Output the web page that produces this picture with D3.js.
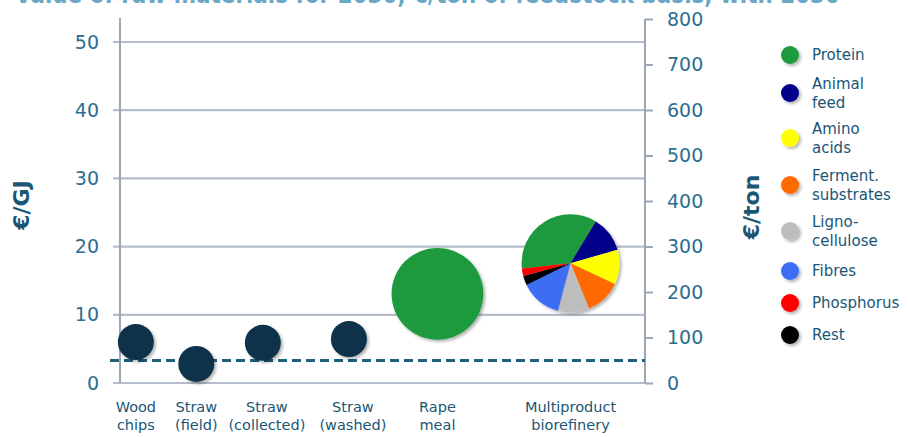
<!DOCTYPE html>
<html>
<head>
<meta charset="utf-8">
<script src="https://cdn.jsdelivr.net/npm/d3@7/dist/d3.min.js"></script>
<style>
  body { margin: 0; background: #fff; }
  svg { display: block; }
</style>
</head>
<body>
<svg id="chart" width="908" height="437"></svg>
<script>
// categories along the x axis (two text lines each)
var categories = [["Wood", "chips"], ["Straw", "(field)"], ["Straw", "(collected)"],
                  ["Straw", "(washed)"], ["Rape", "meal"], ["Multiproduct", "biorefinery"]];
// horizontal slot of each category (the original spaces them unevenly)
var slots = [0.26, 1.25, 2.34, 3.75, 5.2, 7.38];
// feedstock costs in €/GJ (left axis)
var costGJ = [6.0, 2.8, 5.9, 6.45, null, null];
// product values in €/ton (right axis)
var valueTon = [null, null, null, null, 196, 263];
// bubble size (relative)
var bubbleSize = [1, 1, 1, 1, 6.5, 7.4];
var refLine = 3.3; // dashed reference level, €/GJ

var leftTicks = [0, 10, 20, 30, 40, 50];
var rightTicks = [0, 100, 200, 300, 400, 500, 600, 700, 800];

// biorefinery product mix (legend order)
var products = ["Protein", "Animal feed", "Amino acids", "Ferment. substrates",
                "Ligno-cellulose", "Fibres", "Phosphorus", "Rest"];
var productLabels = [["Protein"], ["Animal", "feed"], ["Amino", "acids"], ["Ferment.", "substrates"],
                     ["Ligno-", "cellulose"], ["Fibres"], ["Phosphorus"], ["Rest"]];
var productColors = ["#1e9a3c", "#00008b", "#ffff00", "#ff6a00", "#bdbdbd", "#3d6cf5", "#ff0000", "#000000"];
// pie shares in clockwise order of the pie
var pieOrder = ["Protein", "Animal feed", "Amino acids", "Ferment. substrates",
                "Ligno-cellulose", "Fibres", "Rest", "Phosphorus"];
var pieShares = [35.3, 11.9, 11.4, 11.9, 10.3, 13.6, 3.1, 2.5];

var svg = d3.select("#chart");
var teal = "#2b6e8f", dark = "#1a5675", navy = "#0a3349", grid = "#b4bdc9";
var labelFont = "DejaVu Sans, Verdana, sans-serif";
var tickFont = "DejaVu Sans, Verdana, sans-serif";

var defs = svg.append("defs");
var f = defs.append("filter").attr("id", "shadow").attr("x", "-30%").attr("y", "-30%")
  .attr("width", "170%").attr("height", "170%");
f.append("feDropShadow").attr("dx", 2).attr("dy", 2).attr("stdDeviation", 1.6)
  .attr("flood-color", "#000").attr("flood-opacity", 0.3);

// cropped title at top
svg.append("text")
  .attr("x", 15).attr("y", 3)
  .attr("textLength", 825).attr("lengthAdjust", "spacingAndGlyphs")
  .style("font-family", tickFont)
  .style("font-size", "26px").style("font-weight", "bold")
  .attr("fill", "#6aa8c6")
  .text("Value of raw materials for 2030, €/ton of feedstock basis, with 2030");

var x = d3.scaleLinear().domain([0, 8.6]).range([120, 645]);
var yL = d3.scaleLinear().domain([0, 50]).range([383, 42]);
var yR = d3.scaleLinear().domain([0, 800]).range([383, 19]);
var r = d3.scaleSqrt().domain([0, 1]).range([0, 18]);

// gridlines
svg.append("g").selectAll("line").data(leftTicks).enter().append("line")
  .attr("x1", 113).attr("x2", 645)
  .attr("y1", function(d) { return yL(d); }).attr("y2", function(d) { return yL(d); })
  .attr("stroke", grid).attr("stroke-width", 2.2);

// left axis
var gl = svg.append("g").attr("transform", "translate(120,0)")
  .call(d3.axisLeft(yL).tickValues(leftTicks).tickSize(7).tickPadding(14));
gl.select(".domain").attr("stroke", "#9aa6b4").attr("stroke-width", 2)
  .attr("d", "M0,18V383");
gl.selectAll(".tick line").attr("stroke", "none");
gl.selectAll("text").attr("fill", teal)
  .style("font-family", tickFont).style("font-size", "19px");

// right axis
var gr = svg.append("g").attr("transform", "translate(645,0)")
  .call(d3.axisRight(yR).tickValues(rightTicks).tickSize(8).tickPadding(14));
gr.select(".domain").attr("stroke", "#9aa6b4").attr("stroke-width", 2)
  .attr("d", "M0,19V383");
gr.selectAll(".tick line").attr("stroke", "#9aa6b4").attr("stroke-width", 2);
gr.selectAll("text").attr("fill", teal)
  .style("font-family", tickFont).style("font-size", "19px");

// axis titles
svg.append("text").attr("transform", "translate(29,205) rotate(-90)")
  .attr("text-anchor", "middle").attr("fill", dark)
  .style("font-family", tickFont).style("font-size", "22px")
  .style("font-weight", "bold").text("€/GJ");
svg.append("text").attr("transform", "translate(759,207) rotate(-90)")
  .attr("text-anchor", "middle").attr("fill", dark)
  .style("font-family", tickFont).style("font-size", "22px")
  .style("font-weight", "bold").text("€/ton");

// dashed reference line
svg.append("line")
  .attr("x1", 110).attr("x2", 645)
  .attr("y1", yL(refLine)).attr("y2", yL(refLine))
  .attr("stroke", "#1f5f80").attr("stroke-width", 3).attr("stroke-dasharray", "9,5");

// feedstock dots
svg.append("g").selectAll("circle")
  .data(d3.range(categories.length).filter(function(i) { return costGJ[i] != null; }))
  .enter().append("circle")
  .attr("cx", function(i) { return x(slots[i]); })
  .attr("cy", function(i) { return yL(costGJ[i]); })
  .attr("r", function(i) { return r(bubbleSize[i]); })
  .attr("fill", navy).attr("filter", "url(#shadow)");

// rape meal bubble
svg.append("circle")
  .attr("cx", x(slots[4])).attr("cy", yR(valueTon[4])).attr("r", r(bubbleSize[4]))
  .attr("fill", productColors[0]).attr("filter", "url(#shadow)");

// biorefinery pie
var color = d3.scaleOrdinal().domain(products).range(productColors);
var pie = d3.pie().sort(null).value(function(d) { return d.v; })
  .startAngle(-96 * Math.PI / 180).endAngle(264 * Math.PI / 180);
var arc = d3.arc().innerRadius(0).outerRadius(r(bubbleSize[5]));
var pieData = pieOrder.map(function(k, i) { return {k: k, v: pieShares[i]}; });
svg.append("g")
  .attr("transform", "translate(" + x(slots[5]) + "," + yR(valueTon[5]) + ")")
  .attr("filter", "url(#shadow)")
  .selectAll("path").data(pie(pieData)).enter().append("path")
  .attr("d", arc).attr("fill", function(d) { return color(d.data.k); });

// category labels
var cl = svg.append("g").selectAll("text").data(categories).enter().append("text")
  .attr("x", function(d, i) { return x(slots[i]) + (i == 2 || i == 3 ? 4 : 0); })
  .attr("text-anchor", "middle").attr("fill", dark)
  .style("font-family", labelFont).style("font-size", "14.5px");
cl.selectAll("tspan").data(function(d) { return d; }).enter().append("tspan")
  .attr("x", function() { return d3.select(this.parentNode).attr("x"); })
  .attr("y", function(d, j) { return 412 + j * 18; })
  .text(function(d) { return d; });

// legend
var legendY = [55, 93, 138, 185, 231, 271, 303, 335];
var lg = svg.append("g").selectAll("g").data(products).enter().append("g")
  .attr("transform", function(d, i) { return "translate(790," + legendY[i] + ")"; });
lg.append("circle").attr("r", 9).attr("fill", function(d) { return color(d); })
  .attr("filter", "url(#shadow)");
var lt = lg.append("text").attr("fill", dark)
  .style("font-family", labelFont).style("font-size", "15px");
lt.selectAll("tspan").data(function(d, i) { return productLabels[i]; }).enter().append("tspan")
  .attr("x", 22)
  .attr("y", function(d, j) {
    var n = d3.select(this.parentNode).datum();
    var lines = productLabels[products.indexOf(n)].length;
    return 5 + (j - (lines - 1) / 2) * 19;
  })
  .text(function(d) { return d; });
</script>
</body>
</html>
